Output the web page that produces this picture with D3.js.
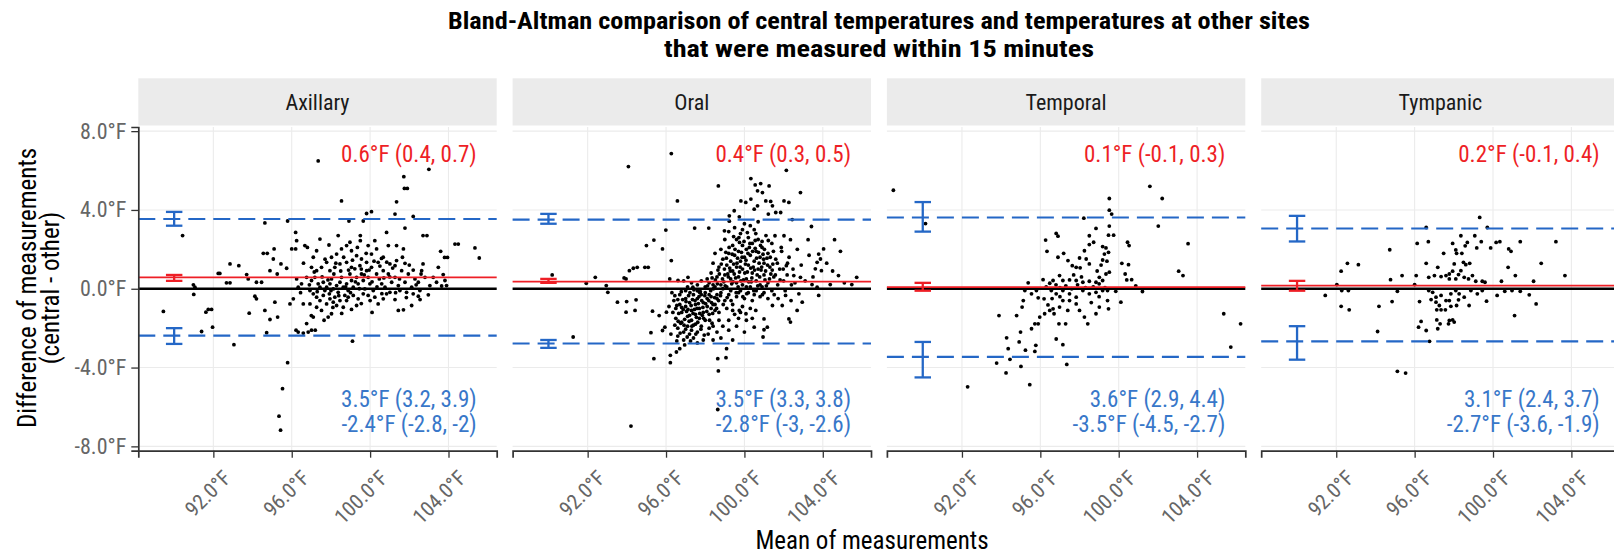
<!DOCTYPE html>
<html>
<head>
<meta charset="utf-8">
<script src="https://cdn.jsdelivr.net/npm/d3@7"></script>
<style>
body { margin: 0; background: #fff; }
text { font-family: "Roboto Condensed", "Liberation Sans Narrow", "DejaVu Sans Condensed", Roboto, sans-serif; }
</style>
</head>
<body>
<svg id="chart" width="1614" height="556"></svg>
<script>
// facet names and Bland-Altman summary stats
var sites = ["Axillary", "Oral", "Temporal", "Tympanic"];
var meanDiff = [0.58, 0.36, 0.08, 0.16];
var meanLo = [0.4, 0.3, -0.1, -0.1];
var meanHi = [0.7, 0.5, 0.3, 0.4];
var upperLoA = [3.54, 3.51, 3.62, 3.06];
var upperLo = [3.2, 3.3, 2.9, 2.4];
var upperHi = [3.9, 3.8, 4.4, 3.7];
var lowerLoA = [-2.38, -2.78, -3.46, -2.67];
var lowerLo = [-2.8, -3.0, -4.5, -3.6];
var lowerHi = [-2.0, -2.6, -2.7, -1.9];
var xTicks = [92, 96, 100, 104];
var yTicks = [-8, -4, 0, 4, 8];

// [mean of measurements, difference] per site
var axillaryPts = [
[97.35,6.49],[103.0,6.06],[101.72,5.69],[101.75,5.09],[101.9,5.09],[98.54,4.46],[101.35,4.41],[100.07,3.91],[99.82,3.82],[101.27,3.79],
[102.2,3.67],[94.63,3.34],[95.79,3.44],[90.43,2.70],[101.78,3.08],[98.92,3.44],[99.65,3.44],[96.2,2.86],[102.7,2.70],[102.9,2.70],
[104.33,2.27],[104.5,2.27],[105.35,2.07],[105.57,1.56],[103.6,1.90],[103.8,1.59],[103.95,1.59],[94.55,1.8],[94.75,1.8],[95.1,2.02],
[95.06,1.51],[92.85,1.26],[93.3,1.17],[92.25,0.78],[92.33,0.78],[92.67,0.3],[92.85,0.3],[90.98,0.2],[91.06,0.08],[91.0,-0.29],
[89.45,-1.15],[91.62,-1.19],[91.74,-1.05],[91.91,-1.05],[91.4,-2.17],[91.96,-1.95],[93.05,-2.84],[94.72,-2.23],[93.83,-1.24],[94.12,-0.38],
[94.2,-0.51],[94.63,-1.1],[94.89,-1.56],[95.14,-0.68],[95.28,-1.44],[95.79,-3.75],[95.53,-5.07],[95.35,-6.47],[95.43,-7.18],[96.22,-2.1],
[96.33,-2.2],[96.59,-2.25],[96.84,-2.2],[97.01,-2.1],[97.2,-2.1],[99.1,-2.66],[94.2,0.33],[94.46,0.33],[93.7,0.72],[93.78,0.5],
[94.89,0.92],[95.26,0.75],[95.45,1.26],[95.74,1.04],[96.0,2.02],[96.2,2.02],[96.25,2.44],[96.67,2.19],[96.8,2.1],[97.27,1.93],
[97.44,2.52],[97.9,2.22],[98.37,2.7],[98.97,2.36],[99.5,2.7],[99.5,2.44],[99.9,2.19],[100.24,2.44],[100.84,2.86],[100.93,2.19],
[101.35,2.19],[101.7,2.02],[100.58,1.54],[100.41,1.34],[101.27,1.17],[101.78,1.29],[102.2,0.95],[102.7,1.26],[102.6,0.75],[103.48,1.09],
[103.73,0.72],[103.82,0.42],[103.65,0.14],[102.97,-0.31],[102.46,-0.38],[102.12,-0.85],[101.7,-1.07],[101.44,-1.1],[101.27,-0.55],[100.84,-0.26],
[100.41,-0.77],[100.0,-0.6],[99.31,-0.85],[98.8,-0.6],[98.03,-1.27],[97.86,-1.44],[97.52,-1.1],[97.27,-0.94],[97.0,-1.36],[97.1,-1.44],
[96.76,-1.77],[96.93,-0.77],[96.59,-0.77],[95.91,-0.77],[96.08,-0.51],
[97.01,0.42],[97.18,0.58],[97.35,0.25],[97.44,0.08],[97.61,0.33],[97.69,-0.09],[97.78,0.08],[97.92,-0.26],[97.95,0.25],[98.03,0.50],
[98.12,-0.01],[98.20,-0.43],[98.29,0.16],[98.37,-0.18],[98.46,0.33],[98.54,0.58],[98.63,0.08],[98.71,-0.34],[98.80,0.25],[98.88,-0.09],
[98.97,0.75],[99.05,0.42],[99.14,0.08],[99.22,1.01],[99.31,0.58],[99.39,0.25],[99.48,1.17],[99.56,0.75],[99.65,0.42],[99.73,-0.01],
[99.82,0.92],[99.90,0.58],[99.99,0.25],[100.07,1.09],[100.16,-0.09],[100.33,0.75],[100.47,0.50],[100.59,0.25],[100.67,0.92],[100.76,0.08],
[100.93,0.75],[101.10,0.33],[101.27,0.58],[101.44,0.16],[101.61,0.92],[101.78,0.33],[101.95,0.75],[102.12,0.08],[102.29,0.50],[102.46,0.33],
[102.63,0.92],[102.80,0.58],[103.05,0.16],[103.22,0.58],[103.39,0.33],[103.90,0.16],
[97.52,1.09],[97.78,1.34],[98.03,1.60],[98.29,1.76],[98.54,2.02],[98.80,2.19],[99.05,1.93],[99.31,1.68],[99.56,1.51],[99.82,1.34],
[100.07,1.76],[100.33,2.02],[100.67,1.60],[101.01,1.26],[101.35,1.43],[98.80,1.34],[99.05,1.09],[97.95,0.92],[98.20,1.09],[98.46,1.26],
[97.27,0.92],[97.01,1.09],[96.76,0.58],[96.50,0.25],[96.33,0.08],[96.25,0.50],
[96.93,-0.09],[97.10,-0.26],[97.27,-0.43],[97.44,-0.60],[97.61,-0.34],[97.78,-0.77],[97.95,-0.51],[98.12,-0.68],[98.29,-0.85],[98.46,-0.60],
[98.63,-0.94],[98.88,-0.43],[99.14,-0.34],[99.39,-0.51],[99.65,-0.26],[99.90,-0.34],[100.24,-0.43],[100.67,-0.51],[101.01,-0.18],[101.52,-0.09],
[101.86,-0.18],[102.20,-0.26],[102.54,-0.09],
[97.15,0.85],[97.3,-0.15],[97.55,0.6],[97.7,1.5],[97.85,0.45],[98.0,-0.1],[98.15,0.75],[98.25,1.3],[98.4,-0.35],[98.5,0.9],
[98.65,1.6],[98.75,0.1],[98.9,0.95],[99.0,-0.2],[99.1,1.45],[99.25,0.35],[99.35,2.1],[99.45,0.0],[99.55,1.0],[99.7,0.7],
[99.8,1.8],[99.95,0.95],[100.1,0.35],[100.2,1.4],[100.35,0.1],[100.5,1.15],[100.6,-0.25],[100.7,0.55],[100.85,1.35],[101.0,0.6],
[101.15,1.05],[101.3,-0.2],[101.5,0.5],[101.65,1.6],[101.85,-0.45],[102.0,1.2],[102.35,0.2],[102.55,-0.55],[98.1,-0.95],[98.55,-1.25],
[99.05,-1.05],[99.55,-0.75],[100.1,-1.2],[97.65,-1.6],[96.9,0.2],[96.6,1.3],[96.45,-0.2],[97.1,1.6]
];

var oralPts = [
[96.27,6.86],[94.08,6.2],[102.14,6.01],[98.67,5.22],[100.33,5.59],[100.55,5.27],[100.83,5.34],[100.67,4.97],[100.92,4.88],[101.26,5.22],
[102.86,4.88],[96.58,4.46],[99.82,4.46],[100.07,4.38],[100.33,4.55],[101.09,4.46],[101.34,4.43],[101.43,4.21],[102.02,4.46],[102.27,4.38],
[99.48,3.96],[99.74,3.65],[99.23,3.7],[100.5,4.04],[100.67,4.21],[101.22,3.79],[101.6,3.87],[101.85,3.87],[102.44,3.51],[99.23,3.43],
[95.99,2.98],[97.46,3.08],[98.18,3.08],[98.98,2.94],[103.42,3.16],[104.6,2.49],[103.25,2.49],[102.35,2.49],[102.02,2.69],[101.56,2.69],
[95.0,2.19],[95.38,2.47],[95.82,2.02],[104.04,2.02],[103.79,1.76],[103.88,1.51],[103.71,1.34],[103.62,1.01],[103.93,0.92],[102.14,1.17],
[102.52,0.67],[102.86,0.58],[104.8,0.67],[105.73,0.58],[105.48,0.21],[104.38,0.21],[103.45,0.21],[103.71,0.08],[103.79,-0.34],[102.78,-0.26],
[102.95,-0.68],[102.69,-1.1],[102.27,-1.53],[102.35,-1.69],[102.1,-0.34],[101.93,-0.85],[101.43,-0.85],[101.0,-1.53],[101.17,-1.95],[101.0,-2.08],
[100.95,-2.45],[100.58,-1.1],[100.5,-1.95],[100.08,-1.27],[99.74,-1.1],[99.4,-1.1],[99.09,-3.04],[99.06,-3.5],[98.64,-3.55],[98.67,-4.17],
[98.64,-6.13],[94.21,-6.97],[95.38,-3.55],[96.22,-3.38],[96.22,-3.75],[96.7,-3.04],[96.53,-3.21],[95.23,-2.23],[95.82,-2.12],[95.94,-1.95],
[91.26,-2.45],[90.19,0.7],[95.31,-1.14],[95.65,-1.36],[96.02,-1.19],[93.96,-1.19],[94.42,-1.1],[93.52,-0.68],[93.99,-0.65],[94.47,-0.56],
[93.03,-0.18],[92.95,0.16],[91.93,0.28],[92.39,0.58],[93.86,0.55],[93.96,0.5],[94.13,0.92],[94.33,1.04],[94.53,1.09],[94.92,1.09],
[95.09,1.09],[96.19,0.5],[96.61,0.42],[96.27,1.43],[97.12,0.58],[97.37,0.08],[97.71,-0.18],
[96.3,-0.2],[96.4,-0.6],[96.5,-1.0],[96.5,-1.5],[96.6,-2.0],[96.6,-2.4],[96.7,-0.3],[96.7,-0.8],[96.8,-1.2],[96.8,-1.7],
[96.9,-2.2],[96.9,-2.6],[97.0,-0.1],[97.0,-0.5],[97.0,-0.9],[97.1,-1.4],[97.1,-1.9],[97.2,-2.3],[97.2,-0.7],[97.3,-1.1],
[97.3,-1.6],[97.3,-2.1],[97.4,-0.3],[97.4,-2.5],[97.5,-0.8],[97.5,-1.3],[97.5,-1.8],[97.6,-0.1],[97.6,-0.5],[97.6,-2.2],
[97.7,-1.0],[97.7,-1.5],[97.8,-0.3],[97.8,-1.9],[97.9,-0.7],[97.9,-1.2],[98.0,-0.2],[98.0,-1.6],[98.1,-0.5],[98.1,-0.9],
[98.2,-1.3],[98.2,-2.0],[98.3,-0.4],[98.4,-0.8],[98.4,-2.6],[98.5,-1.1],[98.6,-0.3],[98.7,-1.6],[97.05,-1.15],[96.95,-1.55],
[97.15,-0.35],[97.35,-0.55],[97.45,-1.05],[97.55,-1.45],[97.65,-0.75],[97.75,-0.15],[97.85,-1.35],[96.65,-1.25],[96.75,-1.75],[96.85,-0.55],
[97.25,-2.65],[96.55,-2.65],[97.95,-2.35],[98.35,-1.75],[98.15,-2.3],[97.4,-1.85],[97.2,-1.35],[97.0,-2.05],[96.8,-0.95],[96.6,-0.55],
[98.2,0.3],[98.3,0.8],[98.4,1.3],[98.5,0.1],[98.5,1.8],[98.6,0.6],[98.7,1.1],[98.8,2.0],[98.8,0.2],[98.9,1.5],
[99.0,0.7],[99.0,2.5],[99.1,1.2],[99.1,0.1],[99.2,1.8],[99.2,2.9],[99.3,0.5],[99.3,1.4],[99.4,2.2],[99.4,0.9],
[99.5,1.7],[99.5,3.1],[99.6,0.3],[99.6,1.1],[99.6,2.5],[99.7,1.9],[99.7,0.6],[99.8,1.4],[99.8,2.8],[99.9,0.2],
[99.9,1.0],[99.9,2.2],[100.0,1.6],[100.0,3.3],[100.1,0.5],[100.1,2.0],[100.2,1.2],[100.2,2.6],[100.3,0.1],[100.3,1.7],
[100.4,0.8],[100.4,2.3],[100.5,1.4],[100.5,3.0],[100.6,0.4],[100.6,1.9],[100.7,1.0],[100.7,2.5],[100.8,0.2],[100.8,1.6],
[100.9,2.1],[101.0,0.7],[101.0,1.3],[101.1,2.7],[101.2,0.3],[101.2,1.8],[101.3,1.1],[101.4,2.3],[101.5,0.6],[101.6,1.5],
[101.7,0.2],[101.8,1.0],[101.9,1.9],[102.0,0.4],[102.2,1.3],[102.4,0.2],[98.35,0.55],[98.65,0.95],[98.95,0.35],[99.15,0.75],
[99.25,1.05],[99.35,0.25],[99.45,1.25],[99.55,0.55],[99.65,1.55],[99.75,0.85],[99.85,1.85],[99.95,0.45],[100.05,1.25],[100.15,0.85],
[100.25,2.1],[100.35,0.35],[100.45,1.1],[100.55,2.05],[100.65,0.7],[100.75,1.3],[100.85,0.95],[100.95,1.75],[101.05,0.45],[101.15,1.55],
[101.35,0.75],[101.45,1.25],[99.05,1.85],[99.45,2.65],[99.75,2.35],[100.15,2.85],[100.55,2.45],[100.9,2.4],[99.9,3.0],[100.3,3.2],
[100.7,3.4],
[97.6,0.2],[97.8,0.4],[98.0,0.1],[98.2,-0.3],[98.4,0.2],[98.6,-0.5],[98.8,-0.2],[99.0,-0.6],[99.2,-0.3],[99.4,-0.8],
[99.6,-0.4],[99.8,-0.1],[100.0,-0.5],[100.2,-0.2],[100.4,-0.6],[100.6,-0.1],[100.8,-0.4],[101.0,-0.2],[101.2,-0.5],[101.4,-0.1],
[98.1,0.5],[98.9,0.0],[99.3,-0.1],[99.7,-0.2],[100.1,0.1],[100.5,-0.3],[100.9,0.1],[97.3,0.3],[97.1,0.1],[96.9,0.4],
[98.5,-0.8],[98.7,-1.2],[98.3,-1.0],[99.1,-1.0],[99.5,-1.3],[99.9,-0.9],[100.3,-1.0],[99.2,-1.6],[98.9,-1.9],[99.7,-1.5],
[100.1,-1.6],
[96.45,-0.35],[96.55,-0.85],[96.62,-1.65],[96.72,-2.25],[96.78,-0.15],[96.88,-1.05],[96.92,-1.85],[97.02,-0.65],[97.08,-2.45],[97.12,-1.05],
[97.18,-1.65],[97.22,-0.2],[97.28,-0.85],[97.32,-1.9],[97.38,-1.25],[97.42,-0.05],[97.48,-0.6],[97.52,-2.3],[97.58,-1.0],[97.62,-1.7],
[97.68,-0.4],[97.72,-1.25],[97.78,-2.05],[97.82,-0.6],[97.88,-0.95],[97.92,-1.5],[97.98,-0.35],[98.02,-0.75],[98.08,-1.15],[98.12,0.15],
[98.18,-0.6],[98.22,-1.6],[98.28,-0.1],[98.32,-0.7],[98.38,-1.25],[98.42,0.0],[98.48,-0.45],[98.52,0.45],[98.58,-1.0],[98.62,0.25],
[98.68,-0.6],[98.72,0.75],[98.78,-0.35],[98.82,1.25],[98.88,0.5],[98.92,-0.8],[98.98,1.0],[99.02,0.15],[99.08,1.55],[99.12,-0.45],
[99.18,0.6],[99.22,2.1],[99.28,0.9],[99.32,-0.6],[99.38,1.75],[99.42,0.35],[99.48,0.75],[99.52,2.0],[99.58,-0.2],[99.62,1.3],
[99.68,0.1],[99.72,2.6],[99.78,1.1],[99.82,0.4],[99.88,1.6],[99.92,-0.4],[99.98,2.4],[100.02,0.8],[100.08,1.45],[100.12,-0.25],
[100.18,1.8],[100.22,0.35],[100.28,2.3],[100.32,1.05],[100.38,0.55],[100.42,1.9],[100.48,-0.1],[100.52,0.95],[100.58,2.8],[100.62,1.55],
[100.68,0.15],[100.72,1.85],[100.78,0.6],[100.82,2.2],[100.88,1.1],[100.92,-0.3],[100.98,1.5],[101.02,2.0],[101.08,0.9],[101.12,0.15],
[101.18,1.2],[101.22,2.45],[101.28,0.5],[101.32,1.6],[101.42,0.95],[101.48,1.9],[101.52,-0.3],[101.58,0.7],[101.68,1.3],[101.72,-0.5],
[101.82,0.45],[101.88,2.1],[101.98,1.0],[102.08,-0.1],[102.18,0.7],[102.28,1.6],[102.38,-0.6],[102.48,1.0],[102.58,0.3],[102.7,2.0],
[102.9,1.2],[103.1,0.4],[103.3,1.7],[103.5,0.6],[104.2,1.3],[104.5,0.9],[104.9,1.9],[105.1,0.3],[99.2,-2.1],[99.6,-1.9],
[100.0,-2.2],[98.8,-2.5],[99.4,-2.6],[100.4,-1.5],[99.8,-1.2],[98.4,-1.9],[98.6,-2.2],[97.9,-2.6],[97.6,-2.75],[96.95,-2.85],
[96.45,-1.85],[96.35,-1.2],[96.25,-2.3],[96.15,-0.9]
];

var temporalPts = [
[88.5,5.0],[90.14,3.31],[92.29,-4.98],[101.59,5.2],[102.22,4.58],[102.02,3.18],[103.54,2.29],[103.06,0.89],[103.28,0.67],[105.36,-1.27],
[106.22,-1.78],[105.72,-2.96],[99.52,4.58],[99.52,3.99],[99.64,3.79],[98.22,3.58],[99.52,3.18],[99.74,2.72],[99.48,2.72],[98.84,3.06],
[96.81,2.81],[96.9,2.67],[96.27,2.47],[96.34,1.9],[98.5,2.69],[98.72,2.36],[98.5,2.24],[100.45,2.36],[100.53,2.19],[99.18,2.14],
[99.35,2.07],[99.27,1.76],[99.48,1.85],[99.18,1.46],[98.25,1.93],[98.0,1.56],[98.34,1.51],[98.5,1.26],[97.19,1.8],[96.9,1.6],
[97.41,1.43],[97.63,1.17],[97.83,1.09],[98.03,1.06],[100.16,1.29],[100.5,1.22],[99.52,0.84],[99.35,0.75],[99.01,0.58],[99.18,0.42],
[98.84,0.33],[100.33,0.75],[100.41,0.45],[100.66,0.46],[100.87,0.15],[101.21,-0.14],[96.98,0.67],[96.65,0.42],[96.14,0.46],[96.48,0.28],
[97.15,0.42],[97.49,0.45],[97.83,0.42],[98.17,0.33],[98.5,0.38],[95.38,0.3],[95.21,-0.09],[95.55,-0.26],[95.8,-0.09],[95.13,-0.6],
[95.07,-0.93],[95.89,-0.46],[96.19,-0.51],
[96.56,-0.09],[96.81,-0.26],[97.15,-0.09],[97.49,-0.26],[97.83,-0.43],[98.17,-0.09],[98.5,-0.26],[98.84,-0.18],[99.18,-0.09],[99.43,-0.09],
[99.85,-0.13],[100.11,-0.68],[99.48,-1.02],[99.43,-0.6],[99.01,-0.93],[98.84,-1.27],[98.42,-1.78],[98.25,-1.44],[98.0,-1.1],[97.83,-0.77],
[97.49,-0.6],[97.15,-0.6],[96.98,-0.93],[96.65,-1.02],[96.48,-1.1],[96.22,-1.27],[95.97,-1.44],[95.72,-1.78],[95.89,-1.78],[95.55,-2.03],
[94.99,-2.2],[94.92,-2.7],[95.24,-3.12],[95.77,-2.87],[95.72,-3.18],[94.36,-3.04],[94.28,-2.49],[93.77,-3.77],[94.25,-4.27],[94.45,-3.58],
[95.01,-3.94],[95.46,-4.87],[96.81,-2.55],[97.15,-2.84],[97.35,-3.84],[97.29,-1.78],[96.95,-1.78],[96.7,-1.27],[96.39,-0.82],[94.79,-1.36],
[93.89,-1.36],
[96.3,0.1],[96.8,0.2],[97.0,0.05],[97.3,0.15],[97.6,0.0],[97.9,0.2],[98.3,0.05],[98.7,0.1],[99.0,0.25],[99.3,0.05],
[98.1,0.6],[97.7,0.7],[98.9,0.9],[99.1,1.2],[99.4,1.4],[96.6,-0.5],[97.0,-0.4],[97.4,-1.1],[98.6,-0.7],[99.0,-0.4]
];

var tympanicPts = [
[99.32,3.62],[99.71,3.11],[96.59,3.11],[98.36,2.69],[99.07,2.69],[96.13,2.3],[96.7,2.39],
[97.94,2.3],[98.69,2.35],[98.58,2.18],[99.17,2.07],[99.4,2.39],[99.88,2.07],[100.16,2.35],[100.35,2.39],[100.8,2.02],[100.92,1.9],[101.39,2.39],[103.21,2.39],
[94.73,1.98],[97.48,1.8],[98.1,1.97],[98.14,1.8],[98.41,1.8],[92.57,1.29],[93.13,1.22],[92.25,0.89],
[96.59,1.29],[97.18,1.09],[98.02,1.26],[98.49,1.34],[98.61,1.22],[98.81,1.29],[100.77,1.09],[102.46,1.29],
[95.36,0.67],[96.08,0.67],[94.77,0.46],
[96.72,0.58],[97.01,0.67],[97.35,0.62],[97.6,0.67],[97.77,0.75],[97.94,0.89],[98.24,0.72],[98.53,0.58],[98.75,0.5],[98.95,0.67],
[98.36,0.92],[97.77,0.5],[98.1,0.5],[99.12,0.38],[99.45,0.38],[99.59,0.33],
[100.43,0.38],[101.14,0.67],[102.07,0.38],[103.67,0.67],
[92.03,0.21],[92.28,-0.09],[92.62,-0.09],[91.44,-0.34],[92.25,-0.89],[92.66,-1.07],
[95.12,-0.13],[94.18,-0.89],[94.85,-0.65],[94.11,-2.17],
[96.0,0.21],[96.25,-0.65],[96.72,-0.09],[96.92,-0.18],[97.09,-0.43],[97.35,-0.34],[97.6,-0.6],[97.85,-0.26],[98.1,-0.09],[98.27,-0.26],
[98.53,-0.43],[98.78,-0.85],[98.87,-0.09],[99.2,-0.26],[99.45,-0.09],[99.67,-0.63],[100.21,-0.34],[100.6,-0.13],[100.97,-0.09],[101.39,-0.13],
[101.85,-0.31],[102.2,-0.77],[101.1,-1.36],
[96.84,-0.55],[97.09,-0.68],[97.26,-0.85],[97.13,-1.07],[97.35,-1.07],[97.57,-1.07],[97.77,-0.6],[97.85,-0.89],[98.14,-0.85],[98.24,-0.56],
[96.33,-1.66],[96.2,-1.95],[96.59,-2.12],[97.13,-1.58],[97.18,-2.03],[97.3,-1.78],[97.73,-1.78],[97.77,-1.61],[97.94,-1.58],[98.02,-1.69],
[95.12,-4.19],[95.54,-4.28],[96.76,-2.67]
];

var sitePts = [axillaryPts, oralPts, temporalPts, tympanicPts];

var svg = d3.select("#chart");
var red = "#ee1f26", blue = "#2467c6", blueText = "#3877c9";

var panelLeft = 138.3, panelStep = 374.3, panelW = 358.4;
var panelTop = 127, panelBottom = 450.7;
var stripTop = 78.3, stripBottom = 125.5;

var x = d3.scaleLinear().domain([88.17, 106.46]).range([0, panelW]);
var y = d3.scaleLinear().domain([-8.22, 8.21]).range([panelBottom, panelTop]);

function ci(v) { return String(+v.toFixed(1)); }
function degF(d) { return d.toFixed(1) + "°F"; }

// title (two lines, stretched a little to the reference width)
svg.append("text").attr("x", 879).attr("y", 29).attr("text-anchor", "middle")
     .attr("textLength", 862).attr("lengthAdjust", "spacingAndGlyphs")
     .style("font-size", "23px").style("font-weight", "bold")
     .text("Bland-Altman comparison of central temperatures and temperatures at other sites");
svg.append("text").attr("x", 879).attr("y", 57).attr("text-anchor", "middle")
     .attr("textLength", 430).attr("lengthAdjust", "spacingAndGlyphs")
     .style("font-size", "23px").style("font-weight", "bold")
     .text("that were measured within 15 minutes");

sites.forEach(function (site, i) {
     var g = svg.append("g").attr("transform", "translate(" + (panelLeft + i * panelStep) + ",0)");

     // strip
     g.append("rect").attr("x", 0).attr("y", stripTop).attr("width", panelW)
          .attr("height", stripBottom - stripTop).attr("fill", "#ebebeb");
     g.append("text").attr("x", panelW / 2).attr("y", (stripTop + stripBottom) / 2 + 8)
          .attr("text-anchor", "middle").style("font-size", "22px").style("fill", "#1a1a1a")
          .text(site);

     // grid
     g.selectAll(".vgrid").data(xTicks).enter().append("line")
          .attr("x1", x).attr("x2", x).attr("y1", panelTop).attr("y2", panelBottom)
          .attr("stroke", "#ebebeb").attr("stroke-width", 1.1);
     g.selectAll(".hgrid").data(yTicks).enter().append("line")
          .attr("x1", 0).attr("x2", panelW).attr("y1", y).attr("y2", y)
          .attr("stroke", "#ebebeb").attr("stroke-width", 1.1);

     // points
     g.selectAll("circle").data(sitePts[i]).enter().append("circle")
          .attr("cx", function (d) { return x(d[0]); })
          .attr("cy", function (d) { return y(d[1]); })
          .attr("r", 1.9).attr("fill", "#000");

     // reference lines
     g.append("line").attr("x1", 0).attr("x2", panelW).attr("y1", y(0)).attr("y2", y(0))
          .attr("stroke", "#000").attr("stroke-width", 2.4);
     g.append("line").attr("x1", 0).attr("x2", panelW).attr("y1", y(meanDiff[i])).attr("y2", y(meanDiff[i]))
          .attr("stroke", red).attr("stroke-width", 1.7);
     [upperLoA[i], lowerLoA[i]].forEach(function (v) {
          g.append("line").attr("x1", 0).attr("x2", panelW).attr("y1", y(v)).attr("y2", y(v))
               .attr("stroke", blue).attr("stroke-width", 2.1).attr("stroke-dasharray", "17,8");
     });

     // error bars at x = 90
     var bars = [[meanLo[i], meanHi[i], red], [upperLo[i], upperHi[i], blue], [lowerLo[i], lowerHi[i], blue]];
     bars.forEach(function (b) {
          var eb = g.append("g").attr("stroke", b[2]).attr("stroke-width", 2.3).attr("fill", "none");
          eb.append("line").attr("x1", x(90)).attr("x2", x(90)).attr("y1", y(b[0])).attr("y2", y(b[1]));
          eb.append("line").attr("x1", x(89.58)).attr("x2", x(90.42)).attr("y1", y(b[0])).attr("y2", y(b[0]));
          eb.append("line").attr("x1", x(89.58)).attr("x2", x(90.42)).attr("y1", y(b[1])).attr("y2", y(b[1]));
     });

     // annotations
     g.append("text").attr("x", panelW - 20).attr("y", 161.5).attr("text-anchor", "end")
          .style("font-size", "23px").style("fill", red)
          .text(meanDiff[i].toFixed(1) + "°F (" + ci(meanLo[i]) + ", " + ci(meanHi[i]) + ")");
     g.append("text").attr("x", panelW - 20).attr("y", 406.5).attr("text-anchor", "end")
          .style("font-size", "23px").style("fill", blueText)
          .text(upperLoA[i].toFixed(1) + "°F (" + ci(upperLo[i]) + ", " + ci(upperHi[i]) + ")");
     g.append("text").attr("x", panelW - 20).attr("y", 431.5).attr("text-anchor", "end")
          .style("font-size", "23px").style("fill", blueText)
          .text(lowerLoA[i].toFixed(1) + "°F (" + ci(lowerLo[i]) + ", " + ci(lowerHi[i]) + ")");

     // x axis
     var xa = g.append("g").attr("transform", "translate(0," + panelBottom + ")")
          .call(d3.axisBottom(x).tickValues(xTicks).tickSizeOuter(0).tickSize(7).tickFormat(degF));
     xa.select(".domain").attr("stroke", "#333").attr("stroke-width", 1.7);
     xa.selectAll(".tick line").attr("stroke", "#333").attr("stroke-width", 1.3);
     xa.selectAll(".tick text").attr("text-anchor", "end").attr("x", 0).attr("y", 0).attr("dy", "0.71em")
          .attr("transform", "translate(8,18) rotate(-45)")
          .style("font-size", "21px").style("fill", "#666").style("font-family", null);

     if (i === 0) {
          var ya = g.append("g")
               .call(d3.axisLeft(y).tickValues(yTicks).tickSizeOuter(0).tickSize(7).tickPadding(5).tickFormat(degF));
          ya.select(".domain").attr("stroke", "#333").attr("stroke-width", 1.7);
          ya.selectAll(".tick line").attr("stroke", "#333").attr("stroke-width", 1.3);
          ya.selectAll(".tick text").style("font-size", "22px").style("fill", "#666").style("font-family", null);
     }
});

// axis titles
svg.append("text").attr("x", 872).attr("y", 549).attr("text-anchor", "middle")
     .style("font-size", "25px").text("Mean of measurements");
var yt = svg.append("text").attr("transform", "translate(36,288) rotate(-90)")
     .attr("text-anchor", "middle").style("font-size", "25px");
yt.append("tspan").attr("x", 0).attr("y", 0).text("Difference of measurements");
yt.append("tspan").attr("x", 0).attr("y", 23).text("(central - other)");
</script>
</body>
</html>
